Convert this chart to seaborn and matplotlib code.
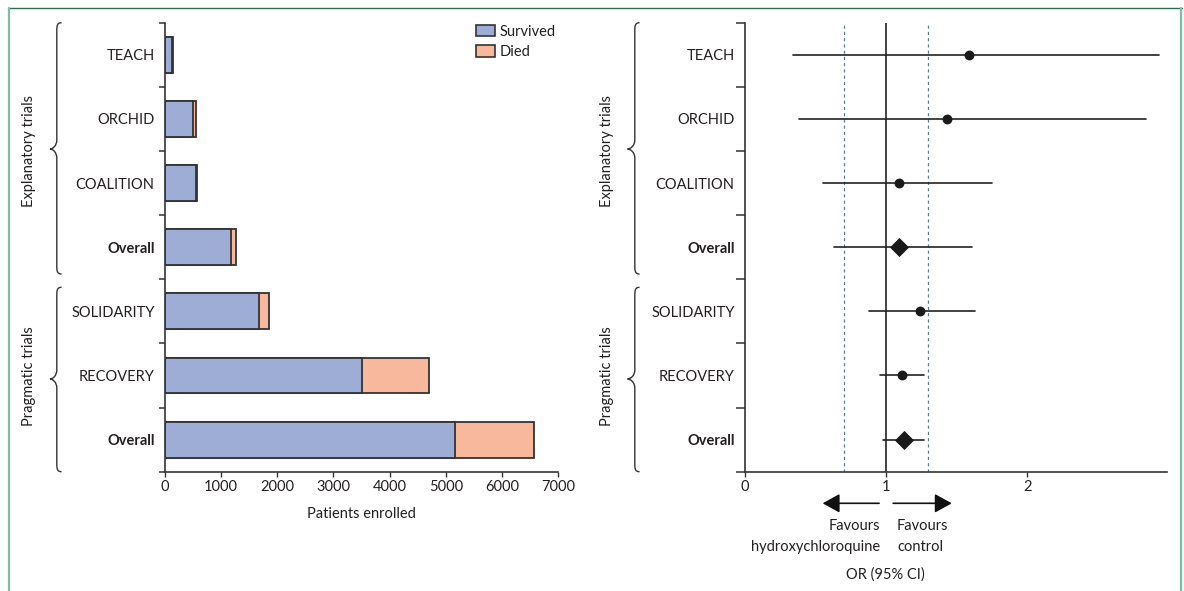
import matplotlib
matplotlib.use("Agg")
import matplotlib.pyplot as plt
import matplotlib.transforms as mtransforms
from matplotlib.path import Path
from matplotlib.patches import PathPatch, Patch
from matplotlib.lines import Line2D
import seaborn as sns
import pandas as pd

# ---------------- data ----------------
row_keys = ["TEACH", "ORCHID", "COALITION", "Overall_E", "SOLIDARITY", "RECOVERY", "Overall_P"]
row_labels = ["TEACH", "ORCHID", "COALITION", "Overall", "SOLIDARITY", "RECOVERY", "Overall"]
bold_rows = [False, False, False, True, False, False, True]
survived = [120, 490, 560, 1170, 1670, 3500, 5165]
died = [15, 62, 18, 95, 190, 1210, 1400]

odds_ratio = [1.59, 1.43, 1.09, 1.09, 1.24, 1.11, 1.13]
ci_low = [0.34, 0.38, 0.55, 0.63, 0.88, 0.96, 0.98]
ci_high = [2.93, 2.84, 1.75, 1.61, 1.63, 1.27, 1.27]
is_pooled = [False, False, False, True, False, False, True]
margin_lines = [0.7, 1.3]

x_ticks_left = [0, 1000, 2000, 3000, 4000, 5000, 6000, 7000]
x_ticks_right = [0, 1, 2]
groups = ["Explanatory trials", "Pragmatic trials"]

# ---------------- style ----------------
sns.set_theme(style="white")
plt.rcParams["font.family"] = ["Lato", "DejaVu Sans"]
FS = 10.5
plt.rcParams["font.size"] = FS
TXT = "#231f20"

W, H = 1184, 591
fig = plt.figure(figsize=(W / 100, H / 100), dpi=100)
pix = mtransforms.Affine2D().scale(1 / W, -1 / H).translate(0, 1) + fig.transFigure

def px_axes(x0, y0, x1, y1):
    return fig.add_axes([x0 / W, 1 - y1 / H, (x1 - x0) / W, (y1 - y0) / H])

axL = px_axes(165, 22.7, 558, 471.7)
axR = px_axes(745, 22.7, 1167, 471.7)

BLUE = "#9eadd5"
ORANGE = "#f8b89b"
EDGE = "#333333"

df = pd.DataFrame({"trial": row_keys, "survived": survived, "died": died})
df["total"] = df["survived"] + df["died"]

sns.barplot(data=df, x="total", y="trial", orient="h", color=ORANGE, edgecolor=EDGE,
            linewidth=1.3, width=0.56, saturation=1, ax=axL)
sns.barplot(data=df, x="survived", y="trial", orient="h", color=BLUE, edgecolor=EDGE,
            linewidth=1.3, width=0.56, saturation=1, ax=axL)

# ---------------- forest ----------------
for i in range(len(row_keys)):
    axR.plot([ci_low[i], ci_high[i]], [i, i], color="#222222", lw=1.2, zorder=3)
fdf = pd.DataFrame({"trial": row_keys, "or": odds_ratio, "pooled": is_pooled})
pts = fdf[~fdf["pooled"]]
pool = fdf[fdf["pooled"]]
axR.scatter(pts["or"], [row_keys.index(t) for t in pts["trial"]], s=50, color="#1a1a1a",
            zorder=4, linewidths=0)
axR.scatter(pool["or"], [row_keys.index(t) for t in pool["trial"]], s=95, marker="D",
            color="#1a1a1a", zorder=4, linewidths=0)
axR.axvline(1, color="#222222", lw=1.2, zorder=2)
for m in margin_lines:
    axR.axvline(m, color="#5d7d8c", lw=0.9, ls=(0, (2.5, 2.5)), zorder=1)

# ---------------- axes formatting ----------------
for ax, xl, xt, tl in [(axL, (0, 7000), x_ticks_left, 4.5), (axR, (0, 2.99), x_ticks_right, 6.2)]:
    ax.set_xlim(*xl)
    ax.set_ylim(6.5, -0.5)
    ax.set_xticks(xt)
    ax.set_xticklabels([str(v) for v in xt], fontsize=FS, color=TXT)
    ax.set_yticks(range(len(row_keys)))
    ax.set_yticklabels(row_labels, fontsize=FS, color=TXT)
    for lab, b in zip(ax.get_yticklabels(), bold_rows):
        if b:
            lab.set_fontweight("bold")
    ax.set_yticks([k - 0.5 for k in range(len(row_keys) + 1)], minor=True)
    ax.tick_params(axis="y", which="major", length=0, pad=7.5)
    ax.tick_params(axis="y", which="minor", length=tl, width=1.1, color="#333333", direction="out", left=True)
    ax.tick_params(axis="x", length=3.6, width=1.0, color="#333333", direction="out", pad=2.5, bottom=True)
    for s in ["top", "right"]:
        ax.spines[s].set_visible(False)
    for s in ["left", "bottom"]:
        ax.spines[s].set_color("#333333")
        ax.spines[s].set_linewidth(1.2)
    ax.set_ylabel("")
    ax.set_xlabel("")
    ax.set_facecolor("white")

axL.set_xlabel("Patients enrolled", fontsize=FS, color=TXT, labelpad=9.5)

# legend
handles = [Patch(facecolor=BLUE, edgecolor=EDGE, linewidth=1.2, label="Survived"),
           Patch(facecolor=ORANGE, edgecolor=EDGE, linewidth=1.2, label="Died")]
fig.legend(handles=handles, loc="upper left", bbox_to_anchor=(476 / W, 1 - 24.5 / H),
           bbox_transform=fig.transFigure, frameon=False, fontsize=FS, handlelength=1.3,
           handleheight=0.85, handletextpad=0.35, labelspacing=0.45, borderpad=0, borderaxespad=0,
           labelcolor=TXT)

# ---------------- braces and group labels ----------------
def brace(xe, xs, xt, yt, yb, ym, r=9):
    verts = [(xe, yt), (xs, yt), (xs, yt + r * 0.4), (xs, yt + r),
             (xs, ym - r),
             (xs, ym - r * 0.35), (xt + (xs - xt) * 0.4, ym), (xt, ym),
             (xt + (xs - xt) * 0.4, ym), (xs, ym + r * 0.35), (xs, ym + r),
             (xs, yb - r),
             (xs, yb - r * 0.4), (xs, yb), (xe, yb)]
    codes = [Path.MOVETO, Path.CURVE4, Path.CURVE4, Path.CURVE4,
             Path.LINETO,
             Path.CURVE4, Path.CURVE4, Path.CURVE4,
             Path.CURVE4, Path.CURVE4, Path.CURVE4,
             Path.LINETO,
             Path.CURVE4, Path.CURVE4, Path.CURVE4]
    fig.add_artist(PathPatch(Path(verts, codes), transform=pix, fill=False,
                             edgecolor="#333333", lw=1.0))

spans = [(22.7, 274, 149, 151), (287.3, 471.7, 379, 376)]
for (xe, xs, xt, xlab) in [(61.5, 56.8, 50, 29), (639.5, 634.8, 627.5, 607)]:
    for (yt, yb, ym, ylab), g in zip(spans, groups):
        brace(xe, xs, xt, yt, yb, ym)
        fig.text(xlab, ylab, g, transform=pix, rotation=90, ha="center", va="center",
                 fontsize=FS, color=TXT)

# ---------------- favours annotation ----------------
arrow_kw = dict(arrowstyle="-|>,head_length=0.65,head_width=0.36", color="#111111", lw=1.2,
                mutation_scale=16, shrinkA=0, shrinkB=0)
trans_ar = mtransforms.blended_transform_factory(axR.transData, pix)
axR.annotate("", xy=(0.55, 503.3), xytext=(0.95, 503.3), xycoords=trans_ar,
             textcoords=trans_ar, arrowprops=arrow_kw, annotation_clip=False)
axR.annotate("", xy=(1.465, 503.3), xytext=(1.05, 503.3), xycoords=trans_ar,
             textcoords=trans_ar, arrowprops=arrow_kw, annotation_clip=False)
fig.text(880, 536.5, "Favours\nhydroxychloroquine", transform=pix, ha="right", va="center",
         multialignment="right", fontsize=FS, color=TXT, linespacing=1.55)
fig.text(897, 536.5, "Favours\ncontrol", transform=pix, ha="left", va="center",
         multialignment="left", fontsize=FS, color=TXT, linespacing=1.55)
fig.text(885, 574.5, "OR (95% CI)", transform=pix, ha="center", va="center",
         fontsize=FS, color=TXT)

# ---------------- frame ----------------
fig.add_artist(Line2D([8, 1181.5], [7.5, 7.5], transform=pix, color="#2b6e4d", lw=1.0))
fig.add_artist(Line2D([9, 9], [7.5, 591], transform=pix, color="#7dbe9f", lw=1.6))
fig.add_artist(Line2D([1181, 1181], [7.5, 591], transform=pix, color="#7dbe9f", lw=1.6))

fig.savefig("out.png", dpi=100, facecolor="white")
